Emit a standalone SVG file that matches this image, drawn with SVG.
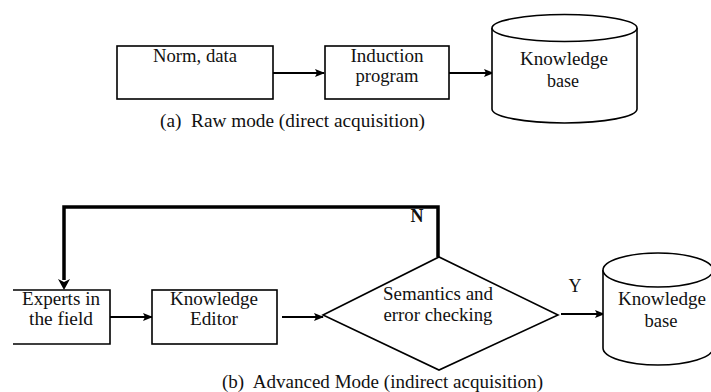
<svg xmlns="http://www.w3.org/2000/svg" width="711" height="392" viewBox="0 0 711 392">
<style>
.box{fill:#fff;stroke:#000;stroke-width:1.6}
.t{font-family:'Liberation Serif','DejaVu Serif',serif;font-size:18px;fill:#111;text-anchor:middle}
.cap{font-family:'Liberation Serif','DejaVu Serif',serif;font-size:18px;fill:#111}
.ln{fill:none;stroke:#000;stroke-width:1.8}
.thick{fill:none;stroke:#000;stroke-width:3.5}
</style>
<defs>
<marker id="ah" markerWidth="10" markerHeight="8" refX="9" refY="4" orient="auto" markerUnits="userSpaceOnUse">
<path d="M0,0 L10,4 L0,8 L2,4 Z" fill="#000"/>
</marker>
</defs>
<g id="connectors">
<line class="ln" x1="273" y1="73" x2="324" y2="73" marker-end="url(#ah)"/>
<line class="ln" x1="449" y1="73" x2="493" y2="73" marker-end="url(#ah)"/>
<line class="ln" x1="110" y1="317" x2="152" y2="317" marker-end="url(#ah)"/>
<line class="ln" x1="282" y1="317" x2="323" y2="317" marker-end="url(#ah)"/>
<line class="ln" x1="561" y1="314" x2="604" y2="314" stroke-width="1.3" marker-end="url(#ah)"/>
<polyline class="thick" points="438,257 438,207 64,207 64,280"/>
<path d="M58,279 L64,290 L70,279 L64,282 Z" fill="#000"/>
<text class="t" x="417" y="222" font-weight="bold" font-size="16">N</text>
<text class="t" x="575" y="292" font-size="17">Y</text>
</g>
<g id="norm-data">
<rect class="box" x="117" y="46" width="156" height="53"/>
<text class="t" x="195" y="62" textLength="84" lengthAdjust="spacingAndGlyphs">Norm, data</text>
</g>
<g id="induction-program">
<rect class="box" x="325" y="46" width="124" height="53"/>
<text class="t" x="387" y="62" textLength="73" lengthAdjust="spacingAndGlyphs">Induction</text>
<text class="t" x="387" y="82" textLength="63" lengthAdjust="spacingAndGlyphs">program</text>
</g>
<g id="kb-a">
<path class="box" d="M492,28 L492,109 A72.5,14 0 0 0 637,109 L637,28"/>
<ellipse class="box" cx="564.5" cy="28" rx="72.5" ry="13.5"/>
<text class="t" x="564" y="65" textLength="88" lengthAdjust="spacingAndGlyphs">Knowledge</text>
<text class="t" x="563" y="87" textLength="32" lengthAdjust="spacingAndGlyphs">base</text>
</g>
<text class="cap" x="160" y="127" textLength="265" lengthAdjust="spacingAndGlyphs" xml:space="preserve">(a)  Raw mode (direct acquisition)</text>
<g id="experts">
<path class="box" d="M13,290 L110,290 L110,344 L13,344"/>
<text class="t" x="61" y="305" textLength="78" lengthAdjust="spacingAndGlyphs">Experts in</text>
<text class="t" x="61" y="325" textLength="64" lengthAdjust="spacingAndGlyphs">the field</text>
</g>
<g id="knowledge-editor">
<rect class="box" x="152" y="290" width="125" height="54"/>
<text class="t" x="214" y="305" textLength="88" lengthAdjust="spacingAndGlyphs">Knowledge</text>
<text class="t" x="214" y="325" textLength="48" lengthAdjust="spacingAndGlyphs">Editor</text>
</g>
<g id="semantics">
<polygon class="box" points="323,315 439,257 558,315 439,370" stroke-width="1.4"/>
<text class="t" x="438" y="300" textLength="110" lengthAdjust="spacingAndGlyphs">Semantics and</text>
<text class="t" x="438" y="321" textLength="109" lengthAdjust="spacingAndGlyphs">error checking</text>
</g>
<g id="kb-b">
<path class="box" d="M603,270 L603,348 A55,17 0 0 0 713,348 L713,270"/>
<ellipse class="box" cx="658" cy="270" rx="55" ry="17"/>
<text class="t" x="662" y="305" textLength="88" lengthAdjust="spacingAndGlyphs">Knowledge</text>
<text class="t" x="661" y="327" textLength="33" lengthAdjust="spacingAndGlyphs">base</text>
</g>
<text class="cap" x="222" y="388" textLength="321" lengthAdjust="spacingAndGlyphs" xml:space="preserve">(b)  Advanced Mode (indirect acquisition)</text>
</svg>
